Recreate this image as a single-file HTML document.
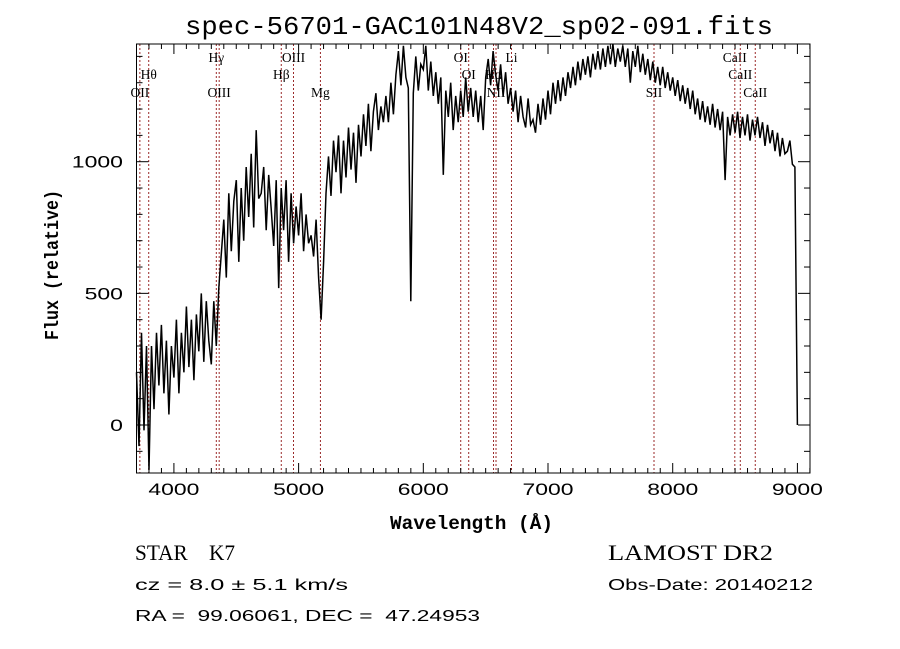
<!DOCTYPE html>
<html><head><meta charset="utf-8"><style>
html,body{margin:0;padding:0;background:#fff;width:900px;height:649px;overflow:hidden}
svg{display:block}
</style></head><body>
<svg id="chart" width="900" height="649" xmlns="http://www.w3.org/2000/svg">
<rect width="900" height="649" fill="#fff"/>
<text x="185" y="34" textLength="588" lengthAdjust="spacingAndGlyphs" font-family="Liberation Mono, monospace" font-size="26">spec-56701-GAC101N48V2_sp02-091.fits</text>
<g id="lines"></g>
<g id="spec"></g>
<g id="axes"></g>
<text x="390" y="529" textLength="163" lengthAdjust="spacingAndGlyphs" font-family="Liberation Mono, monospace" font-size="19" font-weight="bold">Wavelength (Å)</text>
<text transform="translate(58,340) rotate(-90)" textLength="150" lengthAdjust="spacingAndGlyphs" font-family="Liberation Mono, monospace" font-size="19" font-weight="bold">Flux (relative)</text>
<text x="135" y="560" textLength="100" lengthAdjust="spacingAndGlyphs" font-family="Liberation Serif, serif" font-size="22" xml:space="preserve">STAR    K7</text>
<text x="135" y="590" textLength="213" lengthAdjust="spacingAndGlyphs" font-family="Liberation Sans, sans-serif" font-size="16">cz = 8.0 ± 5.1 km/s</text>
<text x="135" y="621" textLength="345" lengthAdjust="spacingAndGlyphs" font-family="Liberation Sans, sans-serif" font-size="16" xml:space="preserve">RA =  99.06061, DEC =  47.24953</text>
<text x="608" y="560" textLength="165" lengthAdjust="spacingAndGlyphs" font-family="Liberation Serif, serif" font-size="22">LAMOST DR2</text>
<text x="608" y="590" textLength="205" lengthAdjust="spacingAndGlyphs" font-family="Liberation Sans, sans-serif" font-size="16">Obs-Date: 20140212</text>
</svg>
<script>
// data arrays
const wlStart = 3700;
const wlStep = 20;
const flux = [
200,-80,350,-20,300, -170,300,60,350,150,
380,120,320,40,300, 180,400,120,350,200,
450,220,400,170,420, 280,500,240,470,320,
230,470,300,520,650, 780,560,880,660,850,
930,620,900,700,980, 790,1030,750,1120,860,
880,980,740,950,820, 680,930,520,900,740,
930,620,880,690,830, 720,880,660,800,690,
720,640,780,560,400, 620,880,1020,870,1080,
960,1100,880,1080,940, 1130,970,1110,920,1140,
1020,1180,1060,1220,1040, 1190,1260,1120,1210,1150,
1250,1150,1300,1180,1330, 1420,1290,1440,1320,1280,
470,1260,1400,1270,1370, 1350,1440,1270,1380,1250,
1340,1220,1320,950,1270, 1170,1300,1120,1250,1150,
1270,1170,1320,1190,1280, 1170,1270,1150,1250,1120,
1320,1390,1290,1420,1330, 1270,1370,1250,1340,1220,
1280,1190,1270,1150,1250, 1170,1130,1240,1140,1160,
1110,1220,1140,1240,1160, 1270,1180,1300,1220,1310,
1230,1320,1250,1340,1280, 1360,1290,1380,1310,1390,
1330,1400,1320,1410,1350, 1420,1350,1430,1360,1440,
1370,1450,1360,1430,1380, 1440,1360,1430,1300,1420,
1360,1440,1340,1410,1330, 1390,1310,1380,1300,1360,
1290,1360,1280,1340,1270, 1320,1250,1310,1230,1290,
1220,1280,1200,1270,1180, 1240,1160,1230,1150,1210,
1140,1220,1130,1200,1120, 1190,930,1170,1100,1180,
1110,1190,1090,1170,1100, 1180,1080,1160,1100,1170,
1090,1150,1060,1140,1070, 1120,1040,1110,1020,1090,
1030,1040,1080,990,980, 0
];
const lineWl = [3727,3798,4340,4363,4861,4959,5175,6300,6364,6563,6583,6707,7850,8498,8542,8662];
const lineLabel = ['OII','Hθ','Hγ','OIII','Hβ','OIII','Mg','OI','OI','Hα','NII','Li','SII','CaII','CaII','CaII'];
const lineRow = [2,1,0,2,1,0,2,0,1,1,2,0,2,0,1,2];
const xTicks = [4000,5000,6000,7000,8000,9000];
const yTicks = [0,500,1000];

const L=136.5,R=810,T=44,B=473;
const x = w => L + (w-3700)*0.1247;
const y = f => 425 - f*0.2633;
const NS='http://www.w3.org/2000/svg';
function mk(tag,attrs,parent){const e=document.createElementNS(NS,tag);for(const k in attrs)e.setAttribute(k,attrs[k]);parent.appendChild(e);return e;}

const gl=document.getElementById('lines');
const rowY=[62,79,97];
lineWl.forEach((w,i)=>{
  const ln=mk('line',{x1:x(w),x2:x(w),y1:T,y2:B,stroke:'#9b2a2a','stroke-width':1,'stroke-dasharray':'2,2'},gl);
  
  
  const t=mk('text',{x:x(w),y:rowY[lineRow[i]],'text-anchor':'middle','font-family':'Liberation Serif, serif','font-size':13.5},gl);
  t.textContent=lineLabel[i];
  
  
});

const gs=document.getElementById('spec');
let d='';
flux.forEach((f,i)=>{const w=wlStart+i*wlStep;const yy=Math.max(T,Math.min(B,y(f)));d+=(i?'L':'M')+x(w).toFixed(1)+','+yy.toFixed(1);});
const p=mk('path',{d:d,fill:'none',stroke:'#000','stroke-width':1.5,'stroke-linejoin':'miter'},gs);



const ga=document.getElementById('axes');
const fr=mk('rect',{x:L,y:T,width:R-L,height:B-T,fill:'none',stroke:'#000','stroke-width':1},ga);


for(let w=3700;w<=9100;w+=100){
  const major=w%1000===0;const len=major?10:5;
  mk('line',{x1:x(w),x2:x(w),y1:B,y2:B-len,stroke:'#000'},ga);
  mk('line',{x1:x(w),x2:x(w),y1:T,y2:T+len,stroke:'#000'},ga);
}
for(let f=-100;f<=1400;f+=100){
  const major=f%500===0;const len=major?12:6;
  mk('line',{x1:L,x2:L+len,y1:y(f),y2:y(f),stroke:'#000'},ga);
  mk('line',{x1:R,x2:R-len,y1:y(f),y2:y(f),stroke:'#000'},ga);
}
xTicks.forEach(w=>{
  const t=mk('text',{x:x(w),y:495,'text-anchor':'middle','font-family':'Liberation Sans, sans-serif','font-size':17,textLength:51,lengthAdjust:'spacingAndGlyphs'},ga);
  t.textContent=w;
  
  
});
yTicks.forEach(f=>{
  const s=String(f);
  const t=mk('text',{x:123,y:y(f)+6,'text-anchor':'end','font-family':'Liberation Sans, sans-serif','font-size':17,textLength:s.length*12.8,lengthAdjust:'spacingAndGlyphs'},ga);
  t.textContent=s;
  
  
});
</script>
</body></html>
